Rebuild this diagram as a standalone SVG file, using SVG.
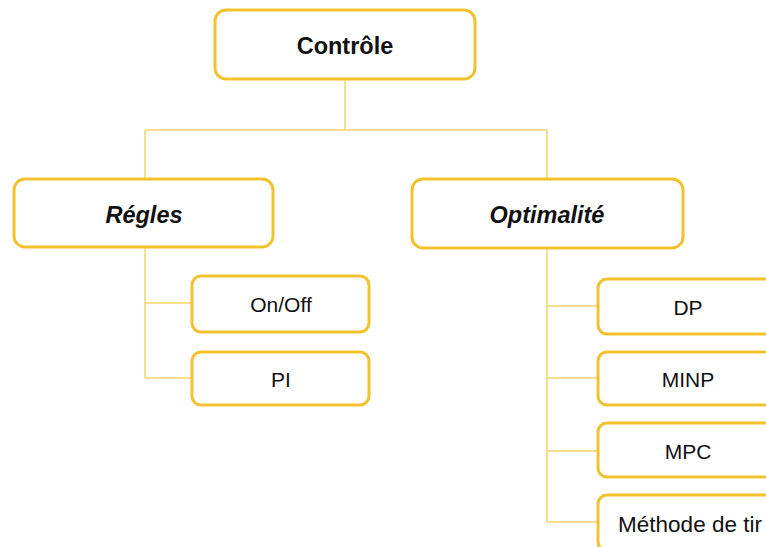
<svg xmlns="http://www.w3.org/2000/svg" width="766" height="547" viewBox="0 0 766 547">
<style>
.box{fill:#fff;stroke:#F2C12E;stroke-width:3}
.con{fill:none;stroke:#F5D56A;stroke-width:1.5}
.t{font-family:"Liberation Sans",Arial,sans-serif;fill:#111;text-anchor:middle;dominant-baseline:central}
.h{font-size:23.5px;font-weight:bold}
.i{font-style:italic}
.c{font-size:21px}
</style>
<rect width="766" height="547" fill="#fff"/>
<g id="connectors">
<path class="con" d="M345,80V130M145,130H547M145,130V179M547,130V179"/>
<path class="con" d="M145,247V378M145,303H192M145,378H192"/>
<path class="con" d="M547,248V522M547,306H598M547,378H598M547,451H598M547,522H598"/>
</g>
<g id="controle"><rect class="box" x="215" y="10" width="260" height="69" rx="11"/><text class="t h" x="345" y="46">Contrôle</text></g>
<g id="regles"><rect class="box" x="14" y="179" width="259" height="68" rx="11"/><text class="t h i" x="144" y="215">Régles</text></g>
<g id="optimalite"><rect class="box" x="412" y="179" width="271" height="69" rx="11"/><text class="t h i" x="547" y="215">Optimalité</text></g>
<g id="onoff"><rect class="box" x="192" y="276" width="177" height="56" rx="9"/><text class="t c" x="281" y="304">On/Off</text></g>
<g id="pi"><rect class="box" x="192" y="352" width="177" height="53" rx="9"/><text class="t c" x="281" y="379">PI</text></g>
<g id="dp"><rect class="box" x="598" y="279" width="180" height="55" rx="9"/><text class="t c" x="688" y="307">DP</text></g>
<g id="minp"><rect class="box" x="598" y="352" width="180" height="53" rx="9"/><text class="t c" x="688" y="379">MINP</text></g>
<g id="mpc"><rect class="box" x="598" y="423" width="180" height="54" rx="9"/><text class="t c" x="688" y="451">MPC</text></g>
<g id="methode"><rect class="box" x="598" y="495" width="180" height="56" rx="9"/><text class="t c" x="690" y="524" style="font-size:22.5px">Méthode de tir</text></g>
</svg>
